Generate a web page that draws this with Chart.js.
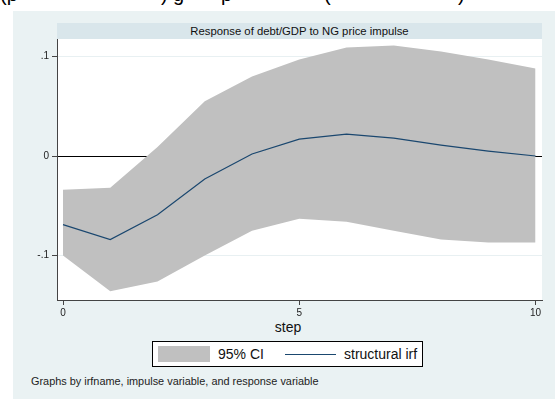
<!DOCTYPE html>
<html>
<head>
<meta charset="utf-8">
<script src="https://cdn.jsdelivr.net/npm/chart.js@4.4.1/dist/chart.umd.min.js"></script>
<style>
  body { margin: 0; background: #fff; font-family: "Liberation Sans", Arial, sans-serif; }
  #wrap { position: relative; width: 555px; height: 399px; overflow: hidden; }
  #cut { position: absolute; left: 0; top: 0; width: 555px; height: 11px; overflow: hidden; }
  #cut span { position: absolute; top: -16px; font-size: 20px; line-height: 20px; color: #000; }
  #bg { position: absolute; left: 13px; top: 11px; right: 0; bottom: 0; background: #eaf2f3; }
  #tbar { position: absolute; left: 57px; top: 23px; width: 485px; height: 16px; background: #d9e6eb;
          font-size: 11.3px; line-height: 16px; text-align: center; color: #111; }
  #xtitle { position: absolute; left: 238px; width: 100px; top: 319px; text-align: center; font-size: 14px; color: #111; }
  #legend { position: absolute; left: 152px; top: 341px; width: 269px; height: 24px; border: 1px solid #000; background: #fff; }
  #legend .sw { position: absolute; left: 5px; top: 4px; width: 52px; height: 16px; background: #c0c0c0; }
  #legend .ln { position: absolute; left: 132px; top: 12px; width: 51px; height: 1px; background: #1a476f; }
  #legend .t { position: absolute; top: 4px; font-size: 14px; line-height: 16px; color: #111; }
  #note { position: absolute; left: 31px; top: 375px; font-size: 10.9px; color: #222; }
  canvas { position: absolute; left: 0; top: 0; }
</style>
</head>
<body>
<div id="wrap">
  <div id="cut">
    <span style="left:0px">(p</span>
    <span style="left:161px">)</span>
    <span style="left:173px">g</span>
    <span style="left:221px">p</span>
    <span style="left:324px">(</span>
    <span style="left:458px">)</span>
  </div>
  <div id="bg"></div>
  <div id="tbar">Response of debt/GDP to NG price impulse</div>
  <div id="xtitle">step</div>
  <div id="legend">
    <div class="sw"></div>
    <div class="t" style="left:65px">95% CI</div>
    <div class="ln"></div>
    <div class="t" style="left:191px">structural irf</div>
  </div>
  <div id="note">Graphs by irfname, impulse variable, and response variable</div>
  <canvas id="irfChart" width="555" height="399"></canvas>
</div>
<script>
const steps = [0, 1, 2, 3, 4, 5, 6, 7, 8, 9, 10];
const irf = [-0.069, -0.084, -0.059, -0.023, 0.002, 0.017, 0.022, 0.018, 0.011, 0.005, 0.0];
const upperCI = [-0.034, -0.032, 0.009, 0.055, 0.080, 0.097, 0.109, 0.111, 0.105, 0.097, 0.088];
const lowerCI = [-0.100, -0.136, -0.126, -0.100, -0.075, -0.063, -0.066, -0.075, -0.084, -0.087, -0.087];

const xTicks = [0, 5, 10];
const xTickLabels = ['0', '5', '10'];
const yTicks = [-0.1, 0, 0.1];
const yTickLabels = ['-.1', '0', '.1'];

const toPoints = (vals) => steps.map((s, i) => ({ x: s, y: vals[i] }));

// white plot region
const plotBg = {
  id: 'plotBg',
  beforeDraw(chart) {
    const { ctx, chartArea: a } = chart;
    ctx.save();
    ctx.fillStyle = '#ffffff';
    ctx.fillRect(a.left, a.top, a.width, a.height);
    ctx.restore();
  },
};

const data = {
  datasets: [
    {
      label: 'structural irf',
      data: toPoints(irf),
      borderColor: '#1a476f',
      borderWidth: 1.2,
      pointRadius: 0,
      fill: false,
    },
    {
      label: '95% CI',
      data: toPoints(upperCI),
      borderWidth: 0,
      borderColor: 'rgba(0,0,0,0)',
      backgroundColor: '#c0c0c0',
      pointRadius: 0,
      fill: '+1',
    },
    {
      label: 'lower',
      data: toPoints(lowerCI),
      borderWidth: 0,
      borderColor: 'rgba(0,0,0,0)',
      pointRadius: 0,
      fill: false,
    },
  ],
};

const config = {
  type: 'line',
  data: data,
  options: {
    responsive: false,
    animation: false,
    layout: { padding: { top: 39, right: 13, left: 0, bottom: 0 } },
    elements: { line: { tension: 0 } },
    scales: {
      x: {
        type: 'linear',
        min: -0.127,
        max: 10.137,
        afterBuildTicks: (s) => { s.ticks = xTicks.map((v) => ({ value: v })); },
        afterFit: (s) => { s.height = 99; },
        grid: { drawOnChartArea: false, tickLength: 5, tickColor: '#444' },
        border: { color: '#444', width: 1 },
        ticks: {
          color: '#222',
          padding: 2,
          maxRotation: 0,
          font: { family: 'Liberation Sans', size: 10 },
          callback: (v) => xTickLabels[xTicks.indexOf(v)],
        },
      },
      y: {
        min: -0.1447,
        max: 0.1176,
        afterBuildTicks: (s) => { s.ticks = yTicks.map((v) => ({ value: v })); },
        afterFit: (s) => { s.width = 57; },
        grid: {
          color: (c) => (c.tick && c.tick.value === 0 ? '#000000' : '#e8f0f2'),
          lineWidth: 1,
          tickLength: 5,
          tickColor: '#444',
        },
        border: { color: '#444', width: 1 },
        ticks: {
          color: '#222',
          padding: 3,
          font: { family: 'Liberation Sans', size: 10 },
          callback: (v) => yTickLabels[yTicks.indexOf(v)],
        },
      },
    },
    plugins: {
      legend: { display: false },
      title: { display: false },
      tooltip: { enabled: false },
    },
  },
  plugins: [plotBg],
};

const ctx = document.getElementById('irfChart').getContext('2d');
new Chart(ctx, config);
</script>
</body>
</html>
